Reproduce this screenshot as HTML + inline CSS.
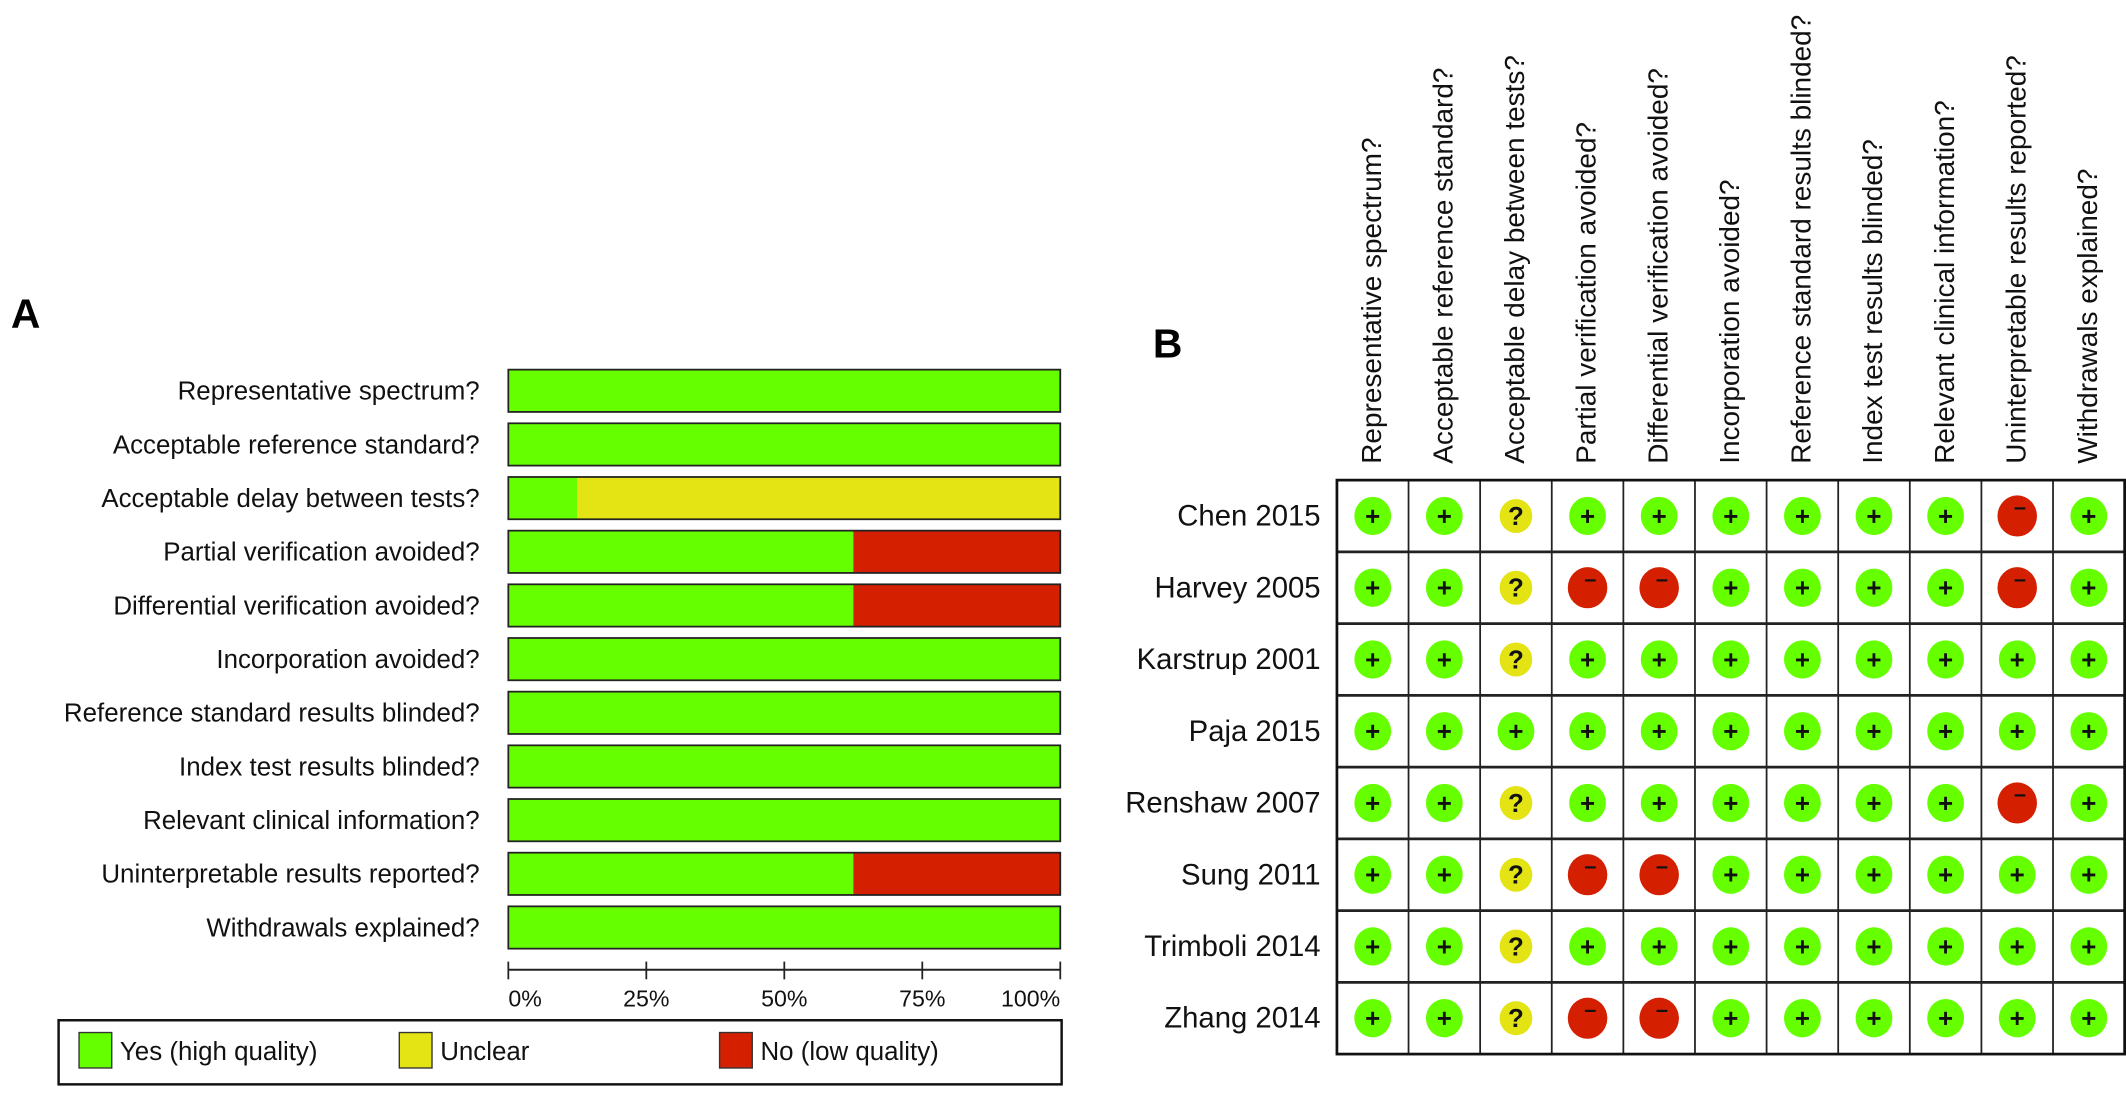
<!DOCTYPE html>
<html><head><meta charset="utf-8"><style>
html,body{margin:0;padding:0;background:#fff;}
svg{display:block;font-family:"Liberation Sans",sans-serif;}
</style></head><body>
<svg id="fig" width="2126" height="1098" viewBox="0 0 1560 805" preserveAspectRatio="none" xmlns="http://www.w3.org/2000/svg">
<text x="8" y="240" font-size="30" font-weight="bold">A</text>
<text x="846" y="262" font-size="30" font-weight="bold">B</text>
<g id="pa"></g>
<g id="pb"></g>
</svg>
<script>
const domains = ["Representative spectrum?","Acceptable reference standard?","Acceptable delay between tests?","Partial verification avoided?","Differential verification avoided?","Incorporation avoided?","Reference standard results blinded?","Index test results blinded?","Relevant clinical information?","Uninterpretable results reported?","Withdrawals explained?"];
const yesPct = [100,100,12.5,62.5,62.5,100,100,100,100,62.5,100];
const unclearPct = [0,0,87.5,0,0,0,0,0,0,0,0];
const noPct = [0,0,0,37.5,37.5,0,0,0,0,37.5,0];
const tickLabels = ["0%","25%","50%","75%","100%"];
const tickValues = [0,25,50,75,100];
const studies = ["Chen 2015","Harvey 2005","Karstrup 2001","Paja 2015","Renshaw 2007","Sung 2011","Trimboli 2014","Zhang 2014"];
const judgements = [
 "++?++++++-+",
 "++?--++++-+",
 "++?++++++++",
 "+++++++++++",
 "++?++++++-+",
 "++?--++++++",
 "++?++++++++",
 "++?--++++++"
];
const NS="http://www.w3.org/2000/svg";
const COL={yes:"#66ff00",unc:"#e4e414",no:"#d42000"};
function mk(tag,attrs,parent){const e=document.createElementNS(NS,tag);for(const k in attrs)e.setAttribute(k,attrs[k]);parent.appendChild(e);return e;}
// Panel A
const pa=document.getElementById('pa');
const x0=373,x1=778,rowTop=271,pitch=39.35,bh=31;
const xs=v=>x0+(x1-x0)*v/100;
domains.forEach((d,i)=>{
 const y=rowTop+i*pitch;
 const t=mk('text',{x:352,y:y+bh/2+6.5,'font-size':19,'text-anchor':'end',fill:'#111'},pa);
 
 
 t.textContent=d;
 let acc=0;
 [[yesPct[i],COL.yes],[unclearPct[i],COL.unc],[noPct[i],COL.no]].forEach(([v,c])=>{
  if(v<=0)return;
  const r=mk('rect',{x:xs(acc),y:y,width:xs(acc+v)-xs(acc),height:bh,fill:c},pa);
  
  
  acc+=v;
 });
 const o=mk('rect',{x:x0,y:y,width:x1-x0,height:bh,fill:'none',stroke:'#222','stroke-width':1.3},pa);
 
 
});
const ax=mk('line',{x1:x0,x2:x1,y1:711,y2:711,stroke:'#222','stroke-width':1.5},pa);


tickValues.forEach((v,i)=>{
 const tk=mk('line',{x1:xs(v),x2:xs(v),y1:705,y2:718,stroke:'#222','stroke-width':1.3},pa);
 
 
 const anchor=i==0?'start':(i==tickValues.length-1?'end':'middle');
 const tl=mk('text',{x:xs(v),y:738,'font-size':17,'text-anchor':anchor,fill:'#111'},pa);
 
 
 tl.textContent=tickLabels[i];
});
const lg=mk('rect',{x:43,y:748,width:736,height:47,fill:'#fff',stroke:'#111','stroke-width':1.8},pa);


[["Yes (high quality)",COL.yes,58],["Unclear",COL.unc,293],["No (low quality)",COL.no,528]].forEach(([lab,c,x])=>{
 const s=mk('rect',{x:x,y:757,width:24,height:26,fill:c,stroke:'#333','stroke-width':1},pa);
 
 
 const t=mk('text',{x:x+30,y:777,'font-size':19,fill:'#111'},pa);
 
 
 t.textContent=lab;
});
// Panel B
const pb=document.getElementById('pb');
const gx0=981,gx1=1559,gy0=352,rh=52.6;
const cw=(gx1-gx0)/domains.length;
domains.forEach((d,j)=>{
 const cx=gx0+cw*(j+0.5);
 const t=mk('text',{x:0,y:0,'font-size':20.5,fill:'#111',transform:`translate(${cx+6},340) rotate(-90)`},pb);
 
 
 t.textContent=d;
});
studies.forEach((s,i)=>{
 const cy=gy0+rh*(i+0.5);
 const t=mk('text',{x:969,y:cy+7,'font-size':21.5,'text-anchor':'end',fill:'#111'},pb);
 
 
 t.textContent=s;
 for(let j=0;j<domains.length;j++){
  const cx=gx0+cw*(j+0.5);
  const ch=judgements[i][j];
  const c=ch=='+'?COL.yes:(ch=='?'?COL.unc:COL.no);
  const rr=ch=='?'?12:(ch=='-'?14.5:13.5);
  const e=mk('ellipse',{cx:cx,cy:cy,rx:rr,ry:rr*1.04,fill:c},pb);
  
  
  const g=mk('text',{x:ch=='-'?cx+2:cx,y:ch=='-'?cy-1:cy+6.5,'font-size':ch=='-'?16:19,'font-weight':'bold','text-anchor':'middle',fill:'#111'},pb);
  
  
  g.textContent=ch=='-'?'\u2013':ch;
 }
});
for(let j=1;j<domains.length;j++){
 const l=mk('line',{x1:gx0+cw*j,x2:gx0+cw*j,y1:gy0,y2:gy0+rh*studies.length,stroke:'#222','stroke-width':1.3},pb);
 
 
}
for(let i=1;i<studies.length;i++){
 const l=mk('line',{x1:gx0,x2:gx1,y1:gy0+rh*i,y2:gy0+rh*i,stroke:'#222','stroke-width':2},pb);
 
 
}
const bd=mk('rect',{x:gx0,y:gy0,width:gx1-gx0,height:rh*studies.length,fill:'none',stroke:'#111','stroke-width':2},pb);


</script>
</body></html>
